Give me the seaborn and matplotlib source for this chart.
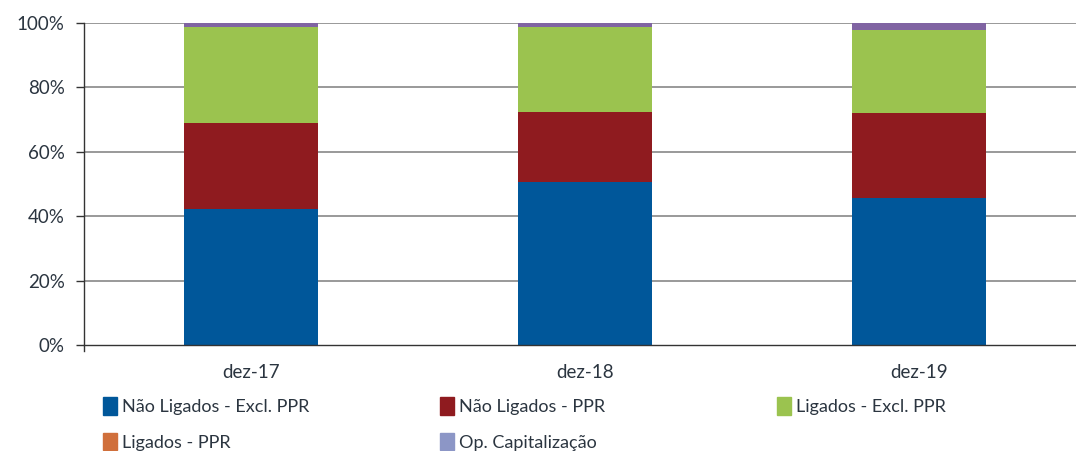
import matplotlib
matplotlib.use("Agg")
import matplotlib.pyplot as plt
import matplotlib.patches as mpatches
import seaborn as sns
import pandas as pd
import numpy as np

categories = ["dez-17", "dez-18", "dez-19"]
series = ["Não Ligados - Excl. PPR", "Não Ligados - PPR", "Ligados - Excl. PPR",
          "Ligados - PPR", "Op. Capitalização"]
nao_lig_excl = [42.2, 50.6, 45.7]
nao_lig_ppr = [26.7, 21.8, 26.3]
lig_excl = [29.8, 26.3, 25.8]
lig_ppr = [0.1, 0.1, 0.1]
op_cap = [1.2, 1.2, 2.1]
yticks = [0, 20, 40, 60, 80, 100]

bar_colors = ["#00579A", "#8F1B1F", "#9BC34F", "#D06F3B", "#8064A2"]
legend_colors = ["#00579A", "#8F1B1F", "#9BC34F", "#D06F3B", "#8C96C6"]

sns.set_theme(style="white")
plt.rcParams['font.family'] = ['Lato', 'DejaVu Sans']
text_color = "#2b3540"

values = np.array([nao_lig_excl, nao_lig_ppr, lig_excl, lig_ppr, op_cap])
cum = np.cumsum(values, axis=0)

fig = plt.figure(figsize=(10.76, 4.51), dpi=100)
ax = fig.add_axes([84/1076, 1-345/451, 1002/1076, 322/451])

for i in range(len(series) - 1, -1, -1):
    df = pd.DataFrame({"cat": categories, "val": cum[i]})
    sns.barplot(data=df, x="cat", y="val", color=bar_colors[i], width=0.4,
                saturation=1, ax=ax, linewidth=0, zorder=3)

ax.set_xlim(-0.5, 2.5)
ax.set_ylim(0, 100)
ax.set_yticks(yticks)
ax.set_yticklabels([f"{t}%" for t in yticks], fontsize=13.5, color=text_color)
ax.set_xlabel("")
ax.set_ylabel("")
ax.set_xticks([0, 1, 2])
ax.set_xticklabels(categories, fontsize=13.5, color=text_color)
ax.tick_params(axis="x", length=0, pad=14)
ax.set_xticks([-0.5, 0.5, 1.5], minor=True)
ax.tick_params(axis="x", which="minor", length=6, width=1, color="#333333", direction="out")
ax.tick_params(axis="y", length=6, width=1, color="#333333", direction="out", left=True, pad=8)

for t in [20, 40, 60, 80, 100]:
    ax.axhline(t, color="#888888", linewidth=1.2, zorder=1)

for s in ["top", "right"]:
    ax.spines[s].set_visible(False)
ax.spines["left"].set_color("#333333")
ax.spines["bottom"].set_color("#333333")
ax.spines["left"].set_linewidth(1)
ax.spines["bottom"].set_linewidth(1)
ax.spines["left"].set_bounds(-2, 100)
ax.spines["left"].set_zorder(4)
ax.spines["bottom"].set_zorder(4)

handles = [mpatches.Patch(color=c, label=s) for c, s in zip(legend_colors, series)]
columns = [[handles[0], handles[3]], [handles[1], handles[4]], [handles[2]]]
col_x = [96, 433, 770]
for hs, x in zip(columns, col_x):
    fig.legend(handles=hs, loc="upper left", bbox_to_anchor=(x/1076, 1-390/451),
               ncol=1, frameon=False, fontsize=13, handlelength=0.75, handleheight=1.1,
               handletextpad=0.3, labelspacing=1.0,
               labelcolor=text_color, borderaxespad=0)

fig.savefig("out.png", dpi=100)
